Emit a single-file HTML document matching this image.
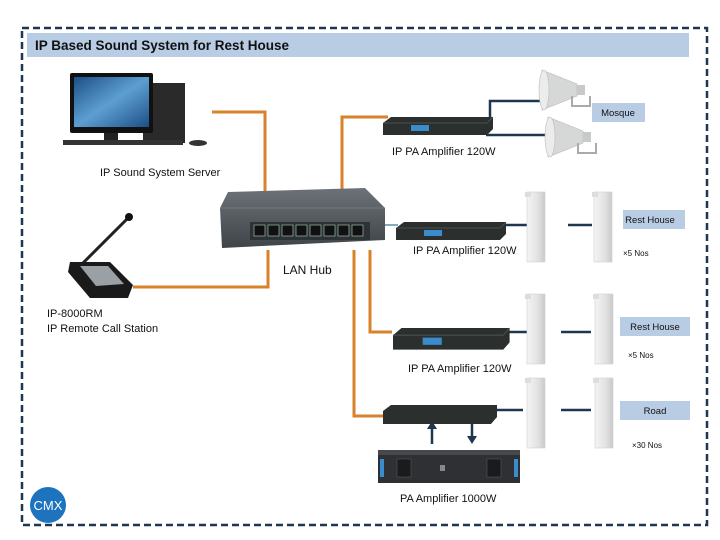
<!DOCTYPE html>
<html><head><meta charset="utf-8"><style>
body{margin:0;background:#fff;}
svg{display:block;font-family:"Liberation Sans",sans-serif;}
</style></head><body>
<svg width="720" height="540" viewBox="0 0 720 540" xmlns="http://www.w3.org/2000/svg">
<defs>
<linearGradient id="scr" x1="0" y1="0" x2="1" y2="1"><stop offset="0" stop-color="#1c4f86"/><stop offset="0.5" stop-color="#5d9fd0"/><stop offset="1" stop-color="#1c4f86"/></linearGradient>
<linearGradient id="spk" x1="0" y1="0" x2="1" y2="0"><stop offset="0" stop-color="#f4f4f4"/><stop offset="0.6" stop-color="#e2e2e2"/><stop offset="1" stop-color="#c9c9c9"/></linearGradient>
<linearGradient id="hub" x1="0" y1="0" x2="0" y2="1"><stop offset="0" stop-color="#6d7278"/><stop offset="1" stop-color="#3f4449"/></linearGradient>
<g id="amp"><path d="M0,6 L8,0 L110,0 L110,12 L104,18 L0,18Z" fill="#2b302e"/><path d="M0,6 L104,6 L110,0" fill="none" stroke="#4a504d"/><rect x="28" y="8" width="18" height="6" fill="#3a8ccc"/></g>
<g id="col"><rect x="0" y="0" width="18" height="70" fill="url(#spk)" stroke="#d0d0d0" stroke-width="0.6"/><rect x="-2" y="0" width="6" height="5" fill="#ddd"/></g>
<g id="horn"><path d="M0,0 L35,14 L35,26 L0,40Z" fill="#d6d8d8" stroke="#bbb" stroke-width="0.6"/><ellipse cx="2" cy="20" rx="5" ry="20" fill="#ececec" stroke="#bbb" stroke-width="0.6"/><rect x="35" y="15" width="8" height="10" fill="#c8caca"/><path d="M30,26 L30,36 L48,36 L48,26" fill="none" stroke="#aaa" stroke-width="2"/></g>
</defs>

<!-- border -->
<rect x="22" y="28" width="685" height="497" fill="none" stroke="#1f3550" stroke-width="2.5" stroke-dasharray="7,4"/>
<rect x="27" y="33" width="662" height="24" fill="#b8cce4"/>
<text x="35" y="50" font-size="13.5" font-weight="bold" fill="#111">IP Based Sound System for Rest House</text>

<!-- orange lines -->
<g fill="none" stroke="#d9822b" stroke-width="3">
<polyline points="212,112 265,112 265,192"/>
<polyline points="342,195 342,117 388,117"/>
<polyline points="268,250 268,287 133,287"/>
<polyline points="354,250 354,416 384,416"/>
<polyline points="370,250 370,332 392,332"/>
</g>
<!-- dark lines -->
<g fill="none" stroke="#1f3550" stroke-width="2.5">
<polyline points="490,117 490,101 547,101"/>
<line x1="486" y1="135" x2="553" y2="135"/>
<line x1="385" y1="225" x2="398" y2="225" stroke-width="1.2" stroke="#3a6f8f"/>
<line x1="506" y1="225" x2="528" y2="225"/><line x1="568" y1="225" x2="592" y2="225"/>
<line x1="505" y1="332" x2="528" y2="332"/><line x1="561" y1="332" x2="591" y2="332"/>
<line x1="495" y1="410" x2="523" y2="410"/><line x1="561" y1="410" x2="591" y2="410"/>
<line x1="432" y1="444" x2="432" y2="427"/><line x1="472" y1="420" x2="472" y2="438"/>
</g>
<path d="M427,429 L432,421 L437,429Z" fill="#1f3550"/>
<path d="M467,436 L472,444 L477,436Z" fill="#1f3550"/>

<!-- computer -->
<rect x="143" y="83" width="42" height="60" fill="#2a2a2a"/>
<rect x="70" y="73" width="83" height="60" rx="2" fill="#111"/>
<rect x="74" y="77" width="75" height="50" fill="url(#scr)"/>
<rect x="104" y="133" width="14" height="7" fill="#222"/>
<rect x="63" y="140" width="120" height="5" fill="#333"/>
<ellipse cx="198" cy="143" rx="9" ry="3" fill="#333"/>
<text x="100" y="176" font-size="11" fill="#111">IP Sound System Server</text>

<!-- call station -->
<line x1="78" y1="268" x2="128" y2="218" stroke="#222" stroke-width="3"/>
<circle cx="129" cy="217" r="4" fill="#111"/>
<path d="M70,262 L110,262 L133,285 L128,298 L90,298 L68,272Z" fill="#1a1a1a"/>
<path d="M80,266 L108,266 L124,284 L96,286Z" fill="#9aa0a4"/>
<text x="47" y="317" font-size="11" fill="#111">IP-8000RM</text>
<text x="47" y="332" font-size="11" fill="#111">IP Remote Call Station</text>

<!-- hub -->
<path d="M228,192 L365,188 L385,208 L385,240 L222,248 L220,208Z" fill="url(#hub)"/>
<path d="M220,208 L385,208" stroke="#777" stroke-width="1"/>
<rect x="250" y="222" width="120" height="18" fill="#2e3236"/>
<g fill="#111" stroke="#8a9" stroke-width="0.8">
<rect x="254" y="225" width="11" height="11"/><rect x="268" y="225" width="11" height="11"/><rect x="282" y="225" width="11" height="11"/><rect x="296" y="225" width="11" height="11"/><rect x="310" y="225" width="11" height="11"/><rect x="324" y="225" width="11" height="11"/><rect x="338" y="225" width="11" height="11"/><rect x="352" y="225" width="11" height="11"/>
</g>
<text x="283" y="274" font-size="12" fill="#111">LAN Hub</text>

<!-- amps -->
<use href="#amp" x="383" y="117"/>
<text x="392" y="155" font-size="11" fill="#111">IP PA Amplifier 120W</text>
<use href="#amp" x="396" y="222"/>
<text x="413" y="254" font-size="11" fill="#111">IP PA Amplifier 120W</text>
<use href="#amp" x="393" y="328" transform="translate(393,328) scale(1.06,1.2) translate(-393,-328)"/>
<text x="408" y="372" font-size="11" fill="#111">IP PA Amplifier 120W</text>
<path d="M383,411 L391,405 L497,405 L497,417 L491,424 L383,424Z" fill="#2b302e"/>

<!-- PA amp 1000W -->
<rect x="378" y="450" width="142" height="33" fill="#2e3034"/>
<rect x="378" y="450" width="142" height="5" fill="#45484d"/>
<rect x="397" y="459" width="14" height="18" fill="#1a1b1d" stroke="#555" stroke-width="0.6"/>
<rect x="487" y="459" width="14" height="18" fill="#1a1b1d" stroke="#555" stroke-width="0.6"/>
<rect x="380" y="459" width="4" height="18" fill="#3a8ccc"/><rect x="514" y="459" width="4" height="18" fill="#3a8ccc"/>
<rect x="440" y="465" width="5" height="6" fill="#888"/>
<text x="400" y="502" font-size="11" fill="#111">PA Amplifier 1000W</text>

<!-- horns -->
<use href="#horn" x="542" y="70"/>
<use href="#horn" x="548" y="117"/>
<rect x="592" y="103" width="53" height="19" fill="#b8cce4"/>
<text x="618" y="116" font-size="9.5" text-anchor="middle" fill="#111">Mosque</text>

<!-- columns -->
<use href="#col" x="527" y="192"/><use href="#col" x="594" y="192"/>
<rect x="623" y="210" width="62" height="19" fill="#b8cce4"/>
<text x="650" y="223" font-size="9.5" text-anchor="middle" fill="#111">Rest House</text>
<text x="623" y="256" font-size="8" fill="#111">×5 Nos</text>

<use href="#col" x="527" y="294"/><use href="#col" x="595" y="294"/>
<rect x="620" y="317" width="70" height="19" fill="#b8cce4"/>
<text x="655" y="330" font-size="9.5" text-anchor="middle" fill="#111">Rest House</text>
<text x="628" y="358" font-size="8" fill="#111">×5 Nos</text>

<use href="#col" x="527" y="378"/><use href="#col" x="595" y="378"/>
<rect x="620" y="401" width="70" height="19" fill="#b8cce4"/>
<text x="655" y="414" font-size="9.5" text-anchor="middle" fill="#111">Road</text>
<text x="632" y="448" font-size="8" fill="#111">×30 Nos</text>

<!-- CMX -->
<circle cx="48" cy="505" r="18" fill="#1e73be"/>
<text x="48" y="510" font-size="13" text-anchor="middle" fill="#fff">CMX</text>
</svg>
</body></html>
